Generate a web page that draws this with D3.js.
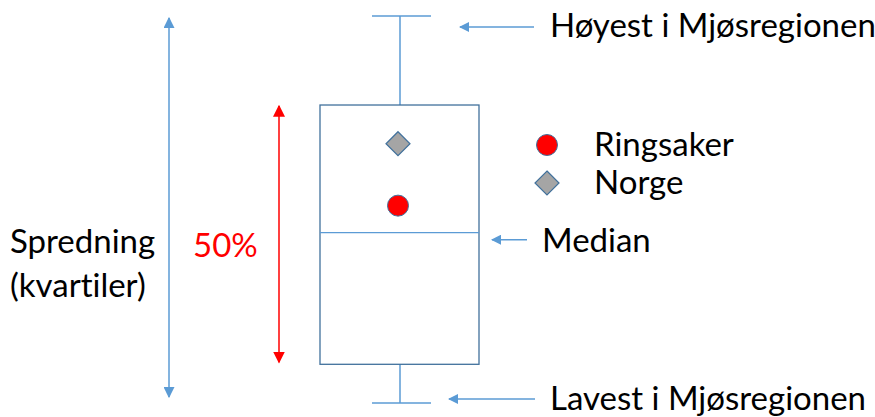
<!DOCTYPE html>
<html>
<head>
<meta charset="utf-8">
<script src="https://cdn.jsdelivr.net/npm/d3@7"></script>
<style>
  body { margin: 0; background: #fff; }
  text { font-family: Lato, "Open Sans", sans-serif; font-variant-ligatures: none; }
</style>
</head>
<body>
<div id="chart"></div>
<script>
// schematic values (0 = lowest, 100 = highest in the region)
const boxStats = { min: 0, q1: 10, median: 44, q3: 77, max: 100 };
const points = [
    { name: "Ringsaker", value: 51, shape: "circle" },
    { name: "Norge", value: 67, shape: "diamond" }
];
const labels = {
    high: "Høyest i Mjøsregionen",
    low: "Lavest i Mjøsregionen",
    median: "Median",
    spread: ["Spredning", "(kvartiler)"],
    iqr: "50%"
};

const width = 875, height = 417;
const blue = "#5B9BD5", darkBlue = "#41719C", red = "#FF0000", grey = "#A5A5A5";
const fs = "33px";

const svg = d3.select("#chart").append("svg")
    .attr("width", width)
    .attr("height", height);

const y = d3.scaleLinear().domain([0, 100]).range([403, 16]);
const boxX = 320, boxW = 159, cx = 400;

const defs = svg.append("defs");
function marker(id, color, w) {
    defs.append("marker")
        .attr("id", id)
        .attr("viewBox", "0 0 10 10")
        .attr("refX", 9).attr("refY", 5)
        .attr("markerWidth", w).attr("markerHeight", w)
        .attr("markerUnits", "userSpaceOnUse")
        .attr("orient", "auto-start-reverse")
        .append("path")
        .attr("d", "M0,0 L10,5 L0,10 Z")
        .attr("fill", color);
}
marker("arrBlue", blue, 11);
marker("arrRed", red, 12);
marker("arrSmall", blue, 10);

// whiskers
svg.append("line")
    .attr("x1", cx).attr("x2", cx)
    .attr("y1", y(boxStats.max)).attr("y2", y(boxStats.q3))
    .attr("stroke", blue).attr("stroke-width", 1.5);
svg.append("line")
    .attr("x1", cx).attr("x2", cx)
    .attr("y1", y(boxStats.q1)).attr("y2", y(boxStats.min))
    .attr("stroke", blue).attr("stroke-width", 1.5);
[boxStats.max, boxStats.min].forEach(v => {
    svg.append("line")
        .attr("x1", cx - 28).attr("x2", cx + 31)
        .attr("y1", y(v)).attr("y2", y(v))
        .attr("stroke", blue).attr("stroke-width", 1.5);
});

// box
svg.append("rect")
    .attr("x", boxX).attr("y", y(boxStats.q3))
    .attr("width", boxW).attr("height", y(boxStats.q1) - y(boxStats.q3))
    .attr("fill", "none").attr("stroke", darkBlue).attr("stroke-width", 1.3);
svg.append("line")
    .attr("x1", boxX).attr("x2", boxX + boxW)
    .attr("y1", y(boxStats.median)).attr("y2", y(boxStats.median))
    .attr("stroke", blue).attr("stroke-width", 1.3);

function drawShape(g, shape, x, yy) {
    if (shape === "circle") {
        g.append("circle")
            .attr("cx", x).attr("cy", yy).attr("r", 10.5)
            .attr("fill", red).attr("stroke", darkBlue).attr("stroke-width", 1);
    } else {
        const s = 12;
        g.append("path")
            .attr("d", `M${x},${yy - s} L${x + s},${yy} L${x},${yy + s} L${x - s},${yy} Z`)
            .attr("fill", grey).attr("stroke", darkBlue).attr("stroke-width", 1.2);
    }
}

// points inside box
points.forEach(p => drawShape(svg, p.shape, 398, y(p.value)));

// legend
const legend = svg.append("g");
points.forEach((p, i) => {
    const ly = 145 + i * 38;
    drawShape(legend, p.shape, 547, ly);
    legend.append("text")
        .attr("x", 594).attr("y", ly + 11)
        .style("font-size", fs)
        .text(p.name);
});

// spread arrow (blue)
svg.append("line")
    .attr("x1", 169).attr("x2", 169)
    .attr("y1", y(boxStats.max) + 2).attr("y2", y(boxStats.min) - 6)
    .attr("stroke", blue).attr("stroke-width", 1.5)
    .attr("marker-start", "url(#arrBlue)")
    .attr("marker-end", "url(#arrBlue)");

// 50% arrow (red)
svg.append("line")
    .attr("x1", 279).attr("x2", 279)
    .attr("y1", y(boxStats.q3) + 1).attr("y2", y(boxStats.q1) - 2)
    .attr("stroke", red).attr("stroke-width", 1.5)
    .attr("marker-start", "url(#arrRed)")
    .attr("marker-end", "url(#arrRed)");

// pointer arrows
function pointer(x1, x2, yy) {
    svg.append("line")
        .attr("x1", x2).attr("x2", x1)
        .attr("y1", yy).attr("y2", yy)
        .attr("stroke", blue).attr("stroke-width", 1.5)
        .attr("marker-end", "url(#arrSmall)");
}
pointer(460, 534, 27);
pointer(492, 527, y(boxStats.median) + 7);
pointer(449, 535, 399);

svg.append("text").attr("x", 550).attr("y", 37)
    .style("font-size", fs).text(labels.high);
svg.append("text").attr("x", 550).attr("y", 410)
    .style("font-size", fs).text(labels.low);
svg.append("text").attr("x", 542).attr("y", 252)
    .style("font-size", fs).text(labels.median);

svg.append("text").attr("x", 193).attr("y", 257)
    .attr("fill", red)
    .style("font-size", fs).text(labels.iqr);

svg.append("text").attr("x", 10).attr("y", 253)
    .style("font-size", fs).text(labels.spread[0]);
svg.append("text").attr("x", 10).attr("y", 297)
    .style("font-size", fs).text(labels.spread[1]);
</script>
</body>
</html>
